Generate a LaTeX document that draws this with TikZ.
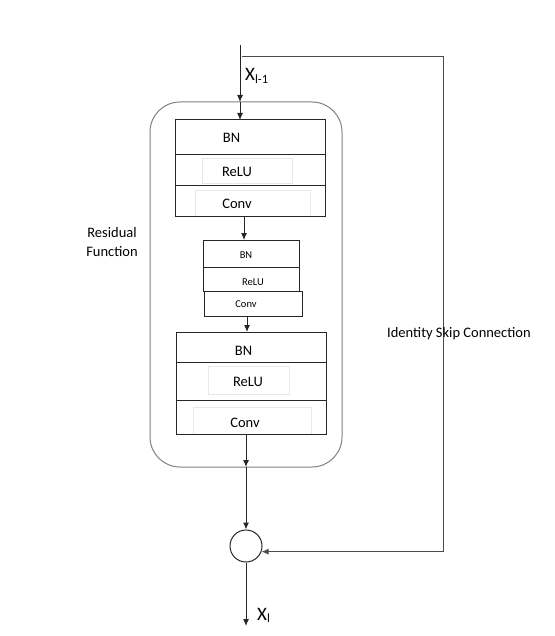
\documentclass[tikz,border=0pt]{standalone}
\usepackage{fontspec}
\setmainfont{Carlito}
\usetikzlibrary{positioning,arrows.meta}

\tikzset{
  layer/.style={draw=black!85, line width=1pt, minimum width=150, inner sep=0pt, outer sep=0pt},
  slim/.style={draw=black!85, line width=1pt, minimum width=96, inner sep=0pt, outer sep=0pt},
  ghost/.style={draw=black!9, line width=0.5pt, inner sep=0pt},
  txt/.style={anchor=base, inner sep=0pt, font=\fontsize{14.5}{17}\selectfont},
  small/.style={anchor=base, inner sep=0pt, font=\fontsize{10.5}{12}\selectfont},
  arr/.style={draw=black!85, line width=1pt, -{Latex[length=7pt,width=6pt]}}
}

\begin{document}
\begin{tikzpicture}[x=1pt, y=-1pt]
\useasboundingbox (0,0) rectangle (554,636);

% outer block
\node[draw=black!50, line width=1pt, rounded corners=30, minimum width=192, minimum height=365, outer sep=0pt] (resid) at (246,284.5) {};

% faint text frames
\node[ghost, minimum width=90, minimum height=25] (g1) at (247,170.5) {};
\node[ghost, minimum width=115, minimum height=26] (g2) at (252.5,203) {};
\node[ghost, minimum width=81, minimum height=28] (g3) at (248.5,380) {};
\node[ghost, minimum width=118, minimum height=27] (g4) at (252,420.5) {};

% first unit
\node[layer, minimum height=35] (bn1) at (250,137.5) {};
\node[layer, minimum height=31, below=0pt of bn1] (relu1) {};
\node[layer, minimum height=30, below=0pt of relu1] (conv1) {};
\node[txt] (tbn1) at (231.5,143) {BN};
\node[txt] (trelu1) at (237,177) {ReLU};
\node[txt] (tconv1) at (237,208) {Conv};

% second unit
\node[slim, minimum height=27] (bn2) at (251,253.5) {};
\node[slim, minimum height=24, below=0pt of bn2] (relu2) {};
\node[slim, minimum width=98, minimum height=25] (conv2) at (253,303.5) {};
\node[small] (tbn2) at (246,258) {BN};
\node[small] (trelu2) at (253,285) {ReLU};
\node[small] (tconv2) at (246,307) {Conv};

% third unit
\node[layer, minimum height=30] (bn3) at (251,347) {};
\node[layer, minimum height=38, below=0pt of bn3] (relu3) {};
\node[layer, minimum height=34, below=0pt of relu3] (conv3) {};
\node[txt] (tbn3) at (243.5,355) {BN};
\node[txt] (trelu3) at (248,386) {ReLU};
\node[txt] (tconv3) at (245,427) {Conv};

% sum
\node[draw=black!85, line width=1pt, circle, minimum size=32, inner sep=0pt] (sum) at (246,546) {};

\coordinate (in) at (240,45);
\coordinate (top) at (443,57);
\coordinate (out) at (247,626);

% connections
\draw[arr] (in) -- (in |- resid.north);
\draw[arr] (in |- resid.north) -- (in |- bn1.north);
\draw[arr] ([xshift=-6]conv1.south) -- ([xshift=-7]bn2.north);
\draw[arr] ([xshift=-6]conv2.south) -- ([xshift=-4]bn3.north);
\draw[arr] (sum |- conv3.south) -- (sum |- resid.south);
\draw[arr] (sum |- resid.south) -- (sum.north);
\draw[arr] (sum.south) -- (sum.south |- out);
\draw[arr, draw=black!70] ([xshift=2]in |- top) -- (top) |- (sum.-20);

% labels
\node[anchor=base west, inner sep=0pt] (xin) at (245,81) {\fontsize{19}{21}\selectfont X\raisebox{-0.25ex}{\fontsize{12.5}{14}\selectfont l-1}};
\node[anchor=base west, inner sep=0pt] (xout) at (257,620) {\fontsize{19}{21}\selectfont X\raisebox{-0.25ex}{\fontsize{12.5}{14}\selectfont l}};
\node[align=center, inner sep=0pt, font=\fontsize{14.5}{19.5}\selectfont] (lres) at (112,242) {Residual\\Function};
\node[anchor=base west, inner sep=0pt, font=\fontsize{14.5}{17}\selectfont] (lskip) at (387,337) {Identity Skip Connection};
\end{tikzpicture}
\end{document}
